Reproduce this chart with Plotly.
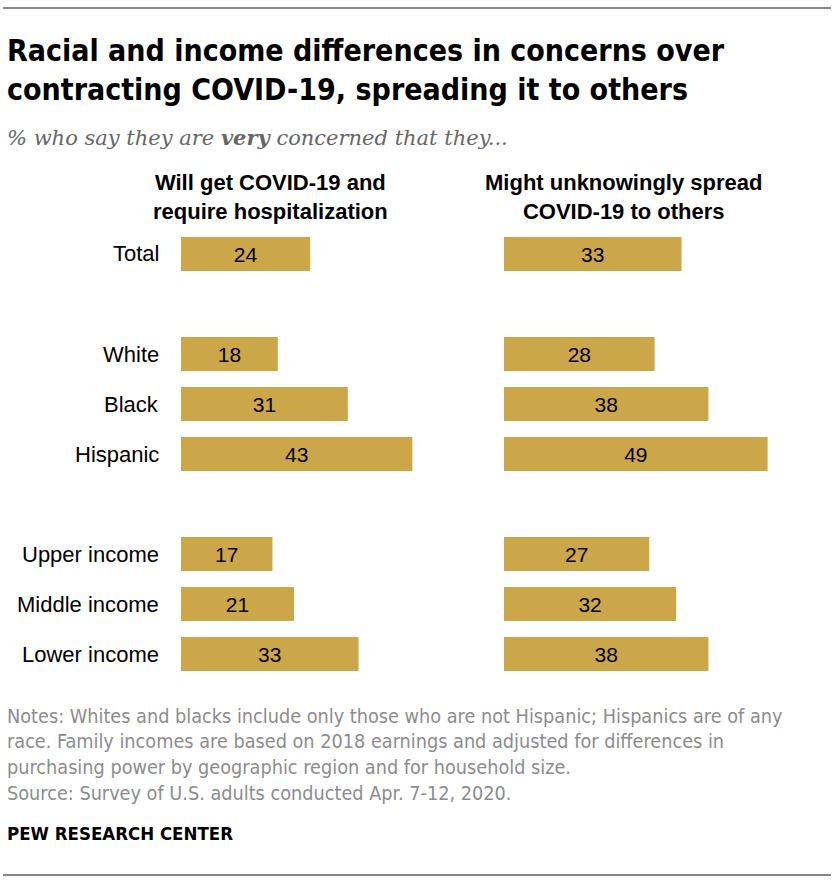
import plotly.graph_objects as go

categories = ["Total", "White", "Black", "Hispanic", "Upper income", "Middle income", "Lower income"]
groups = [0, 1, 1, 1, 2, 2, 2]
hospital = [24, 18, 31, 43, 17, 21, 33]
spread = [33, 28, 38, 49, 27, 32, 38]
panel_titles = ["Will get COVID-19 and<br>require hospitalization",
                "Might unknowingly spread<br>COVID-19 to others"]

W, H = 834, 884
BAR = "#CCA74A"

# row index: one blank slot between groups
rows = [i + g for i, g in enumerate(groups)]

def py(px):
    return 1 - px / H

def pxx(px):
    return px / W

fig = go.Figure()
for k, vals in enumerate([hospital, spread]):
    ax = "" if k == 0 else "2"
    fig.add_trace(go.Bar(
        x=vals, y=rows, orientation="h",
        marker=dict(color=BAR, line=dict(width=0)),
        width=0.68,
        text=[str(v) for v in vals], textposition="inside",
        insidetextanchor="middle",
        textfont=dict(family="Liberation Sans, Arial", size=21, color="#000000"),
        xaxis="x" + ax, yaxis="y" + ax, showlegend=False, hoverinfo="skip",
    ))

ytop, ybot = 229, 679
common_y = dict(range=[max(rows) + 0.5, -0.5], showgrid=False, zeroline=False,
                showticklabels=False, ticks="", domain=[py(ybot), py(ytop)], fixedrange=True)
common_x = dict(range=[0, 50], showgrid=False, zeroline=False, showticklabels=False,
                ticks="", fixedrange=True)

fig.update_layout(
    width=W, height=H, margin=dict(l=0, r=0, t=0, b=0),
    paper_bgcolor="white", plot_bgcolor="white",
    xaxis=dict(domain=[pxx(181), pxx(450)], **common_x),
    xaxis2=dict(domain=[pxx(504), pxx(773)], anchor="y2", **common_x),
    yaxis=dict(anchor="x", **common_y),
    yaxis2=dict(anchor="x2", **common_y),
    uniformtext=dict(minsize=10, mode="show"),
)

ann = []
for c, r in zip(categories, rows):
    ann.append(dict(x=pxx(161), xref="paper", y=r, yref="y", text=c, showarrow=False,
                    xanchor="right", yanchor="middle",
                    font=dict(family="Liberation Sans, Arial", size=22, color="#000000")))

for t, cx in zip(panel_titles, [270, 623]):
    ann.append(dict(x=pxx(cx), xref="paper", y=py(197), yref="paper", text="<b>" + t + "</b>",
                    showarrow=False, xanchor="center", yanchor="middle",
                    font=dict(family="Liberation Sans, Arial", size=22, color="#000000")))

ann.append(dict(x=pxx(5), xref="paper", y=py(70), yref="paper",
                text="<b>Racial and income differences in concerns over<br>contracting COVID-19, spreading it to others</b>",
                showarrow=False, xanchor="left", yanchor="middle", align="left",
                font=dict(family="DejaVu Sans Condensed, Liberation Sans", size=30, color="#000000")))

ann.append(dict(x=pxx(5), xref="paper", y=py(137), yref="paper",
                text="<i>% who say they are <b>very</b> concerned that they...</i>",
                showarrow=False, xanchor="left", yanchor="middle",
                font=dict(family="DejaVu Serif, Georgia", size=21, color="#666666")))

notes = ["Notes: Whites and blacks include only those who are not Hispanic; Hispanics are of any",
         "race. Family incomes are based on 2018 earnings and adjusted for differences in",
         "purchasing power by geographic region and for household size.",
         "Source: Survey of U.S. adults conducted Apr. 7-12, 2020."]
for i, n in enumerate(notes):
    ann.append(dict(x=pxx(5), xref="paper", y=py(716 + i * 25.8), yref="paper", text=n,
                    showarrow=False, xanchor="left", yanchor="middle",
                    font=dict(family="DejaVu Sans Condensed, Liberation Sans", size=19.7, color="#8C8C8C")))

ann.append(dict(x=pxx(5), xref="paper", y=py(833), yref="paper", text="<b>PEW RESEARCH CENTER</b>",
                showarrow=False, xanchor="left", yanchor="middle",
                font=dict(family="DejaVu Sans Condensed, Liberation Sans", size=18.5, color="#000000")))

fig.update_layout(annotations=ann)

fig.update_layout(shapes=[
    dict(type="line", xref="paper", yref="paper", x0=pxx(3), x1=pxx(831), y0=py(8), y1=py(8),
         line=dict(color="#111111", width=1.2)),
    dict(type="line", xref="paper", yref="paper", x0=pxx(3), x1=pxx(831), y0=py(875), y1=py(875),
         line=dict(color="#111111", width=1.2)),
])

fig.write_html("out.html", config={"displayModeBar": False},
               post_script="document.body.style.margin='0';")
